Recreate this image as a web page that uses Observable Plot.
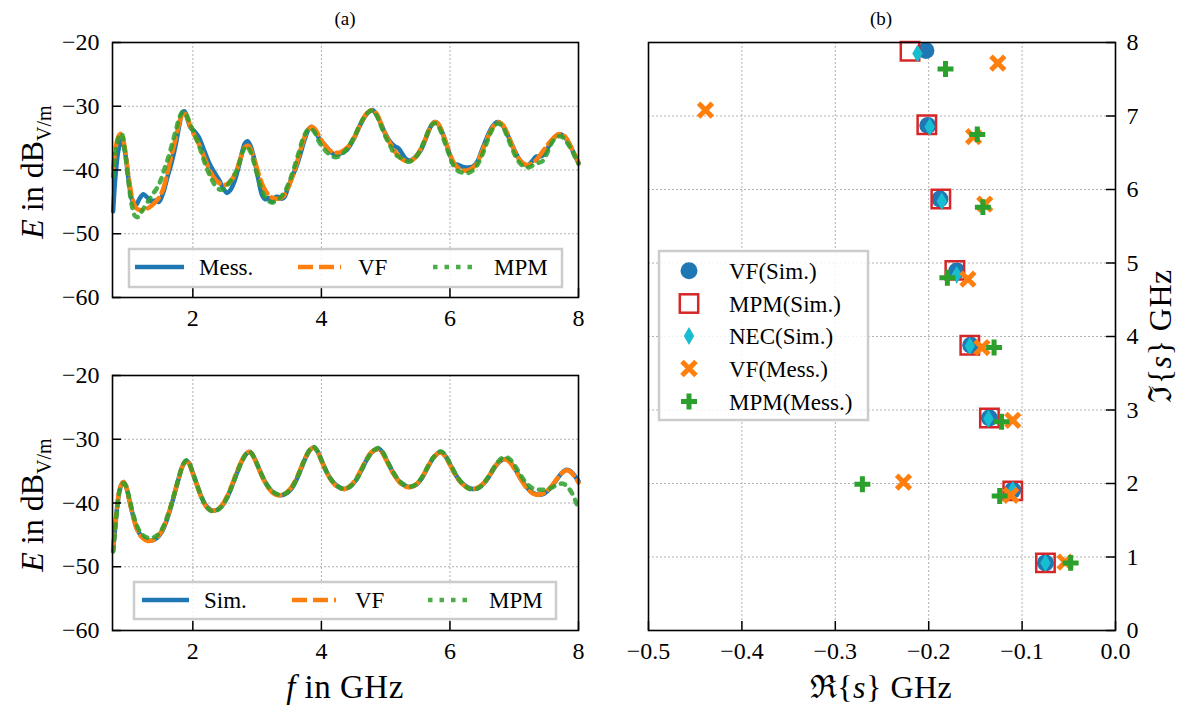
<!DOCTYPE html>
<html><head><meta charset="utf-8">
<script src="https://cdn.jsdelivr.net/npm/d3@7"></script>
<script src="https://cdn.jsdelivr.net/npm/@observablehq/plot@0.6"></script>
<style>
body{margin:0;background:#fff;overflow:hidden;}
#root{position:relative;width:1187px;height:711px;}
#root svg{position:absolute;left:0;top:0;}
</style></head><body><div id="root"></div>
<script>
// ---------- Data: panel (a) top, measurement ----------
const topMess = [[0.76,-46.5],[0.80,-40.5],[0.85,-36.5],[0.90,-35.3],[0.95,-37.5],[1.00,-41.5],[1.06,-44.8],[1.12,-45.4],[1.17,-44.5],[1.23,-43.8],[1.29,-44.3],[1.35,-44.9],[1.41,-44.8],[1.47,-45.0],[1.53,-43.8],[1.60,-41.3],[1.67,-38.8],[1.73,-36.2],[1.79,-33.0],[1.84,-30.9],[1.87,-30.8],[1.91,-31.8],[1.96,-33.3],[2.03,-34.0],[2.09,-34.8],[2.17,-36.8],[2.25,-38.8],[2.33,-40.3],[2.41,-41.6],[2.48,-43.0],[2.53,-43.6],[2.58,-43.2],[2.64,-42.0],[2.70,-40.0],[2.76,-37.5],[2.81,-35.8],[2.85,-35.5],[2.90,-36.3],[2.96,-38.5],[3.02,-41.5],[3.08,-44.0],[3.13,-44.6],[3.18,-44.4],[3.23,-45.0],[3.28,-44.3],[3.32,-44.2],[3.38,-44.5],[3.42,-44.3],[3.48,-42.8],[3.54,-41.2],[3.61,-39.5],[3.67,-37.6],[3.74,-35.2],[3.80,-33.6],[3.84,-33.2],[3.89,-33.7],[3.95,-34.8],[4.01,-35.6],[4.08,-36.4],[4.15,-37.2],[4.22,-37.6],[4.30,-37.4],[4.40,-36.8],[4.51,-35.0],[4.60,-33.0],[4.70,-31.3],[4.79,-30.6],[4.85,-31.2],[4.92,-32.6],[4.98,-34.0],[5.05,-35.3],[5.13,-36.2],[5.20,-36.6],[5.26,-37.5],[5.32,-38.3],[5.38,-38.5],[5.46,-38.0],[5.54,-37.0],[5.62,-35.2],[5.70,-33.2],[5.76,-32.5],[5.80,-32.6],[5.86,-33.6],[5.93,-35.5],[6.00,-37.6],[6.06,-39.0],[6.13,-39.2],[6.20,-39.5],[6.28,-39.6],[6.35,-39.5],[6.42,-38.8],[6.50,-36.8],[6.58,-34.8],[6.66,-33.2],[6.73,-32.5],[6.78,-32.6],[6.85,-33.5],[6.92,-35.0],[7.00,-36.8],[7.07,-38.2],[7.14,-39.0],[7.21,-39.3],[7.28,-38.6],[7.34,-37.9],[7.40,-37.9],[7.46,-37.6],[7.53,-36.4],[7.60,-35.2],[7.67,-34.5],[7.73,-34.4],[7.80,-35.0],[7.87,-36.2],[7.94,-37.6],[8.00,-38.9]];
const topVF = [[0.76,-39.8],[0.80,-36.5],[0.85,-34.6],[0.89,-34.3],[0.94,-36.5],[1.00,-41.0],[1.06,-44.5],[1.12,-46.0],[1.19,-46.3],[1.26,-46.2],[1.33,-45.8],[1.40,-45.2],[1.47,-44.4],[1.53,-43.2],[1.58,-41.5],[1.63,-39.3],[1.68,-37.2],[1.73,-35.2],[1.79,-32.6],[1.84,-31.3],[1.88,-31.2],[1.93,-32.3],[1.99,-33.9],[2.06,-35.2],[2.13,-36.8],[2.20,-38.6],[2.28,-40.4],[2.36,-41.6],[2.44,-42.2],[2.52,-42.3],[2.60,-41.6],[2.67,-40.3],[2.74,-38.2],[2.80,-36.5],[2.86,-36.2],[2.91,-37.0],[2.97,-38.8],[3.03,-40.8],[3.10,-42.7],[3.17,-43.8],[3.25,-44.4],[3.33,-44.5],[3.41,-44.1],[3.48,-42.8],[3.55,-41.0],[3.62,-38.8],[3.70,-36.0],[3.78,-33.9],[3.85,-33.2],[3.91,-33.7],[3.98,-35.0],[4.06,-36.2],[4.14,-37.0],[4.22,-37.3],[4.30,-37.2],[4.40,-36.5],[4.51,-34.9],[4.60,-33.0],[4.70,-31.2],[4.79,-30.6],[4.86,-31.2],[4.93,-32.8],[5.00,-34.5],[5.08,-36.0],[5.16,-37.3],[5.24,-38.2],[5.32,-38.6],[5.40,-38.5],[5.48,-37.8],[5.56,-36.4],[5.63,-34.8],[5.70,-33.2],[5.76,-32.5],[5.81,-32.7],[5.87,-33.8],[5.94,-35.8],[6.01,-37.8],[6.08,-39.2],[6.16,-39.9],[6.24,-40.1],[6.32,-39.9],[6.40,-39.2],[6.48,-37.6],[6.56,-35.6],[6.64,-33.8],[6.71,-32.7],[6.76,-32.5],[6.82,-32.9],[6.89,-34.2],[6.97,-36.2],[7.05,-37.9],[7.13,-38.9],[7.21,-39.2],[7.29,-38.9],[7.37,-38.1],[7.45,-37.0],[7.53,-35.9],[7.61,-35.0],[7.68,-34.4],[7.74,-34.4],[7.81,-35.0],[7.88,-36.3],[7.95,-37.8],[8.00,-38.9]];
const topMPM = [[0.76,-41.0],[0.80,-37.0],[0.85,-34.8],[0.89,-34.3],[0.94,-36.8],[1.00,-42.0],[1.05,-45.5],[1.10,-47.2],[1.14,-47.4],[1.20,-46.6],[1.26,-45.6],[1.33,-44.5],[1.39,-43.6],[1.45,-42.7],[1.50,-41.6],[1.56,-39.8],[1.62,-38.0],[1.68,-35.8],[1.74,-33.6],[1.79,-31.8],[1.84,-30.9],[1.88,-31.0],[1.94,-32.3],[2.00,-33.8],[2.06,-35.2],[2.13,-37.2],[2.20,-39.3],[2.28,-41.2],[2.36,-42.6],[2.43,-43.1],[2.50,-42.8],[2.58,-41.8],[2.66,-40.5],[2.72,-39.0],[2.78,-37.0],[2.83,-36.3],[2.88,-36.8],[2.95,-38.8],[3.02,-41.4],[3.09,-43.6],[3.16,-44.7],[3.23,-45.1],[3.30,-44.8],[3.37,-44.2],[3.44,-43.2],[3.51,-41.6],[3.58,-39.5],[3.65,-37.2],[3.71,-35.2],[3.78,-33.8],[3.83,-33.5],[3.89,-34.0],[3.96,-35.5],[4.04,-36.7],[4.13,-37.6],[4.22,-38.0],[4.31,-37.6],[4.40,-36.6],[4.51,-34.8],[4.60,-32.9],[4.70,-31.2],[4.78,-30.7],[4.85,-31.3],[4.92,-32.9],[4.99,-34.6],[5.07,-36.2],[5.14,-37.5],[5.20,-37.9],[5.28,-38.4],[5.36,-38.7],[5.44,-38.3],[5.52,-37.2],[5.60,-35.5],[5.67,-33.8],[5.73,-32.8],[5.78,-32.7],[5.84,-33.5],[5.91,-35.4],[5.98,-37.4],[6.05,-39.2],[6.12,-40.1],[6.19,-40.4],[6.27,-40.5],[6.35,-40.1],[6.42,-39.3],[6.50,-37.7],[6.57,-35.8],[6.64,-34.0],[6.71,-32.9],[6.76,-32.7],[6.82,-33.2],[6.89,-34.7],[6.97,-36.7],[7.05,-38.4],[7.13,-39.3],[7.21,-39.6],[7.29,-39.3],[7.37,-38.9],[7.44,-38.6],[7.50,-37.6],[7.57,-36.0],[7.64,-35.0],[7.70,-34.7],[7.76,-34.9],[7.83,-35.8],[7.90,-37.0],[7.96,-38.2],[8.00,-39.0]];

// ---------- Data: panel (a) bottom, simulation ----------
const botSim = [[0.76,-47.5],[0.79,-44.0],[0.83,-40.0],[0.87,-37.6],[0.92,-36.7],[0.96,-37.4],[1.01,-39.4],[1.07,-42.0],[1.13,-44.0],[1.20,-45.2],[1.28,-45.8],[1.36,-45.9],[1.44,-45.5],[1.52,-44.5],[1.59,-42.8],[1.66,-40.6],[1.73,-38.0],[1.79,-35.8],[1.85,-34.0],[1.90,-33.4],[1.94,-33.7],[2.00,-35.3],[2.07,-37.3],[2.14,-39.2],[2.22,-40.6],[2.30,-41.2],[2.37,-41.1],[2.45,-40.5],[2.53,-39.2],[2.61,-37.3],[2.69,-35.2],[2.77,-33.3],[2.84,-32.2],[2.89,-32.0],[2.95,-32.8],[3.02,-34.4],[3.10,-36.2],[3.18,-37.6],[3.27,-38.5],[3.35,-38.8],[3.44,-38.6],[3.53,-37.8],[3.61,-36.4],[3.69,-34.5],[3.76,-32.8],[3.83,-31.6],[3.88,-31.3],[3.94,-31.9],[4.01,-33.5],[4.09,-35.3],[4.18,-36.7],[4.27,-37.5],[4.36,-37.8],[4.45,-37.4],[4.54,-36.4],[4.62,-34.9],[4.70,-33.3],[4.78,-32.1],[4.85,-31.6],[4.90,-31.5],[4.96,-32.2],[5.03,-33.6],[5.12,-35.3],[5.21,-36.6],[5.30,-37.3],[5.39,-37.5],[5.48,-37.1],[5.57,-36.0],[5.65,-34.5],[5.73,-33.1],[5.80,-32.3],[5.86,-32.0],[5.92,-32.5],[6.00,-33.9],[6.09,-35.6],[6.18,-36.8],[6.27,-37.5],[6.36,-37.8],[6.45,-37.6],[6.54,-36.8],[6.63,-35.5],[6.72,-34.1],[6.80,-33.3],[6.87,-33.1],[6.94,-33.6],[7.02,-34.8],[7.11,-36.3],[7.20,-37.6],[7.29,-38.4],[7.38,-38.7],[7.47,-38.5],[7.56,-37.7],[7.65,-36.5],[7.73,-35.4],[7.80,-34.8],[7.86,-34.9],[7.93,-35.6],[8.00,-36.6]];
const botVF = [[0.76,-47.3],[0.79,-43.8],[0.83,-39.9],[0.87,-37.5],[0.92,-36.7],[0.96,-37.4],[1.01,-39.5],[1.07,-42.1],[1.13,-44.1],[1.20,-45.3],[1.28,-45.9],[1.36,-45.9],[1.44,-45.4],[1.52,-44.3],[1.59,-42.6],[1.66,-40.4],[1.73,-37.9],[1.79,-35.7],[1.85,-34.0],[1.90,-33.4],[1.94,-33.8],[2.00,-35.4],[2.07,-37.4],[2.14,-39.3],[2.22,-40.7],[2.30,-41.2],[2.37,-41.0],[2.45,-40.4],[2.53,-39.0],[2.61,-37.1],[2.69,-35.0],[2.77,-33.2],[2.84,-32.1],[2.89,-32.0],[2.95,-32.9],[3.02,-34.5],[3.10,-36.3],[3.18,-37.7],[3.27,-38.6],[3.35,-38.8],[3.44,-38.5],[3.53,-37.6],[3.61,-36.2],[3.69,-34.3],[3.76,-32.7],[3.83,-31.6],[3.88,-31.3],[3.94,-32.0],[4.01,-33.6],[4.09,-35.4],[4.18,-36.8],[4.27,-37.6],[4.36,-37.8],[4.45,-37.3],[4.54,-36.2],[4.62,-34.7],[4.70,-33.2],[4.78,-32.0],[4.85,-31.6],[4.90,-31.6],[4.96,-32.3],[5.03,-33.7],[5.12,-35.4],[5.21,-36.7],[5.30,-37.4],[5.39,-37.5],[5.48,-37.0],[5.57,-35.9],[5.65,-34.4],[5.73,-33.0],[5.80,-32.3],[5.86,-32.1],[5.92,-32.6],[6.00,-34.0],[6.09,-35.7],[6.18,-36.9],[6.27,-37.6],[6.36,-37.8],[6.45,-37.5],[6.54,-36.7],[6.63,-35.4],[6.72,-34.0],[6.80,-33.3],[6.87,-33.2],[6.94,-33.7],[7.02,-34.9],[7.11,-36.4],[7.20,-37.7],[7.29,-38.5],[7.38,-38.7],[7.47,-38.4],[7.56,-37.6],[7.65,-36.4],[7.73,-35.4],[7.80,-34.9],[7.86,-35.0],[7.93,-35.7],[8.00,-36.8]];
const botMPM = [[0.76,-47.6],[0.79,-44.2],[0.83,-40.3],[0.87,-37.8],[0.92,-36.9],[0.96,-37.3],[1.01,-39.2],[1.07,-41.7],[1.13,-43.6],[1.20,-44.8],[1.28,-45.4],[1.36,-45.5],[1.44,-45.1],[1.52,-44.1],[1.59,-42.5],[1.66,-40.4],[1.73,-37.9],[1.79,-35.7],[1.85,-33.9],[1.90,-33.3],[1.94,-33.7],[2.00,-35.3],[2.07,-37.3],[2.14,-39.2],[2.22,-40.7],[2.30,-41.3],[2.37,-41.2],[2.45,-40.5],[2.53,-39.2],[2.61,-37.3],[2.69,-35.2],[2.77,-33.3],[2.84,-32.2],[2.89,-32.0],[2.95,-32.8],[3.02,-34.4],[3.10,-36.2],[3.18,-37.5],[3.27,-38.4],[3.35,-38.7],[3.44,-38.5],[3.53,-37.7],[3.61,-36.3],[3.69,-34.4],[3.76,-32.7],[3.83,-31.5],[3.88,-31.2],[3.94,-31.9],[4.01,-33.5],[4.09,-35.3],[4.18,-36.7],[4.27,-37.5],[4.36,-37.8],[4.45,-37.4],[4.54,-36.4],[4.62,-34.9],[4.70,-33.3],[4.78,-32.1],[4.85,-31.5],[4.90,-31.4],[4.96,-32.1],[5.03,-33.5],[5.12,-35.2],[5.21,-36.5],[5.30,-37.2],[5.39,-37.4],[5.48,-37.0],[5.57,-35.9],[5.65,-34.4],[5.73,-33.0],[5.80,-32.2],[5.86,-31.9],[5.92,-32.4],[6.00,-33.8],[6.09,-35.5],[6.18,-36.8],[6.27,-37.6],[6.36,-37.9],[6.45,-37.6],[6.54,-36.7],[6.63,-35.3],[6.72,-33.9],[6.80,-33.0],[6.87,-32.8],[6.94,-33.2],[7.02,-34.3],[7.11,-35.8],[7.20,-37.0],[7.29,-37.7],[7.38,-37.9],[7.47,-37.9],[7.56,-37.7],[7.64,-37.3],[7.71,-37.0],[7.77,-37.0],[7.83,-37.5],[7.89,-38.3],[7.95,-39.6],[8.00,-41.0]];

// ---------- Data: panel (b) poles (Re{s}, Im{s}) in GHz ----------
const polesVFSim   = [[-0.203,7.89],[-0.201,6.87],[-0.188,5.87],[-0.170,4.89],[-0.155,3.88],[-0.135,2.89],[-0.110,1.91],[-0.075,0.92]];
const polesMPMSim  = [[-0.220,7.88],[-0.202,6.88],[-0.187,5.87],[-0.172,4.90],[-0.156,3.88],[-0.135,2.89],[-0.110,1.90],[-0.075,0.92]];
const polesNECSim  = [[-0.212,7.85],[-0.199,6.85],[-0.186,5.84],[-0.170,4.84],[-0.156,3.87],[-0.136,2.88],[-0.110,1.91],[-0.075,0.92]];
const polesVFMess  = [[-0.439,7.08],[-0.126,7.72],[-0.152,6.72],[-0.140,5.80],[-0.158,4.78],[-0.143,3.85],[-0.110,2.86],[-0.227,2.02],[-0.112,1.84],[-0.054,0.93]];
const polesMPMMess = [[-0.182,7.64],[-0.148,6.75],[-0.142,5.76],[-0.180,4.80],[-0.130,3.85],[-0.122,2.84],[-0.271,1.99],[-0.124,1.83],[-0.048,0.92]];

// ---------- Tick labels ----------
const fTicks = [2, 4, 6, 8];
const eTicks = [-20, -30, -40, -50, -60];
const reTicks = [-0.5, -0.4, -0.3, -0.2, -0.1, 0.0];
const imTicks = [0, 1, 2, 3, 4, 5, 6, 7, 8];

// ---------- Styling ----------
const C = {blue:"#1f77b4", orange:"#ff7f0e", green:"#2ca02c", red:"#d62728", cyan:"#17becf"};
const FONT = "'Liberation Serif','DejaVu Serif',serif";
const W = 1187, H = 711;
const toObj = a => a.map(([x, y]) => ({x, y}));
const tick = 9;

function linePanel(top, s1, s2, s3) {
  const fw = 466, fh = 255;
  return Plot.plot({
    width: W, height: H,
    marginLeft: 112, marginRight: W - 578, marginTop: top, marginBottom: H - (top + fh),
    style: {background: "transparent", fontFamily: FONT, fontSize: "24px", color: "#000"},
    x: {domain: [0.75, 8]},
    y: {domain: [-60, -20]},
    marks: [
      Plot.gridX({ticks: fTicks, stroke: "#b0b0b0", strokeOpacity: 1, strokeDasharray: "2,2", strokeWidth: 1}),
      Plot.gridY({ticks: eTicks, stroke: "#b0b0b0", strokeOpacity: 1, strokeDasharray: "2,2", strokeWidth: 1}),
      Plot.line(toObj(s1), {x: "x", y: "y", stroke: C.blue, strokeWidth: 4.5, curve: "catmull-rom"}),
      Plot.line(toObj(s2), {x: "x", y: "y", stroke: C.orange, strokeWidth: 4.5, strokeDasharray: "15,6", curve: "catmull-rom"}),
      Plot.line(toObj(s3), {x: "x", y: "y", stroke: C.green, strokeOpacity: 0.85, strokeWidth: 4.5, strokeDasharray: "4.5,7", curve: "catmull-rom"}),
      Plot.ruleX(fTicks, {x: d => d, insetTop: fh - tick, stroke: "#000", strokeWidth: 1.5}),
      Plot.ruleY(eTicks, {y: d => d, insetRight: fw - tick, stroke: "#000", strokeWidth: 1.5}),
      Plot.frame({stroke: "#000", strokeWidth: 1.6}),
      Plot.axisX({ticks: fTicks, tickSize: 0, tickPadding: 11, label: null, tickFormat: d3.format("d")}),
      Plot.axisY({ticks: eTicks, tickSize: 0, tickPadding: 13, label: null, tickFormat: d3.format("d")})
    ]
  });
}

const thinDiamond = {draw(ctx, size) { const r = Math.sqrt(size / Math.PI); ctx.moveTo(0, -r); ctx.lineTo(r * 0.58, 0); ctx.lineTo(0, r); ctx.lineTo(-r * 0.58, 0); ctx.closePath(); }};

function polePanel() {
  const fw = 467, fh = 588;
  return Plot.plot({
    width: W, height: H,
    marginLeft: 648, marginRight: W - 1115, marginTop: 42, marginBottom: H - 630,
    style: {background: "transparent", fontFamily: FONT, fontSize: "24px", color: "#000"},
    x: {domain: [-0.5, 0]},
    y: {domain: [0, 8]},
    marks: [
      Plot.gridX({ticks: reTicks, stroke: "#b0b0b0", strokeOpacity: 1, strokeDasharray: "2,2", strokeWidth: 1}),
      Plot.gridY({ticks: imTicks, stroke: "#b0b0b0", strokeOpacity: 1, strokeDasharray: "2,2", strokeWidth: 1}),
      Plot.dot(toObj(polesVFSim), {x: "x", y: "y", r: 8.5, symbol: "circle", fill: C.blue, stroke: "none"}),
      Plot.dot(toObj(polesMPMSim), {x: "x", y: "y", r: 10.4, symbol: "square", fill: "none", stroke: C.red, strokeWidth: 2.5}),
      Plot.dot(toObj(polesNECSim), {x: "x", y: "y", r: 9, symbol: thinDiamond, fill: C.cyan, stroke: "none"}),
      Plot.dot(toObj(polesVFMess), {x: "x", y: "y", r: 6.3, symbol: "times", fill: "none", stroke: C.orange, strokeWidth: 5}),
      Plot.dot(toObj(polesMPMMess), {x: "x", y: "y", r: 5.2, symbol: "plus", fill: "none", stroke: C.green, strokeWidth: 5}),
      Plot.ruleX(reTicks, {x: d => d, insetTop: fh - tick, stroke: "#000", strokeWidth: 1.5}),
      Plot.ruleY(imTicks, {y: d => d, insetLeft: fw - tick, stroke: "#000", strokeWidth: 1.5}),
      Plot.frame({stroke: "#000", strokeWidth: 1.6}),
      Plot.axisX({ticks: reTicks, tickSize: 0, tickPadding: 11, label: null, tickFormat: d3.format(".1f")}),
      Plot.axisY({ticks: imTicks, anchor: "right", tickSize: 0, tickPadding: 11, label: null, tickFormat: d3.format("d")})
    ]
  });
}

const root = document.getElementById("root");
root.append(linePanel(42, topMess, topVF, topMPM));
root.append(linePanel(375, botSim, botVF, botMPM));
root.append(polePanel());

// ---------- Overlay: legends, axis labels, panel titles ----------
function lineLegend(x, y, w, h, cy, items) {
  let s = `<rect x="${x}" y="${y}" width="${w}" height="${h}" fill="#fff" fill-opacity="0.85" stroke="#cccccc" stroke-width="2.5"/>`;
  for (const it of items) {
    s += `<line x1="${it.x0}" x2="${it.x1}" y1="${cy}" y2="${cy}" stroke="${it.c}" stroke-width="4.5" ${it.dash ? `stroke-dasharray="${it.dash}"` : ""} ${it.op ? `stroke-opacity="${it.op}"` : ""}/>`;
    s += `<text x="${it.tx}" y="${cy}" dy="0.35em" font-size="23">${it.label}</text>`;
  }
  return s;
}
let ov = `<svg width="${W}" height="${H}" xmlns="http://www.w3.org/2000/svg" font-family="${FONT.replace(/'/g, "&quot;")}" fill="#000">`;
ov += lineLegend(129, 249, 433, 38, 267, [
  {x0: 135, x1: 184, c: C.blue, tx: 199, label: "Mess."},
  {x0: 298, x1: 341, c: C.orange, dash: "15,6", tx: 358, label: "VF"},
  {x0: 433, x1: 477, c: C.green, dash: "4.5,7", op: 0.85, tx: 494, label: "MPM"}
]);
ov += lineLegend(134, 582, 422, 37, 600, [
  {x0: 142, x1: 189, c: C.blue, tx: 204, label: "Sim."},
  {x0: 292, x1: 336, c: C.orange, dash: "15,6", tx: 355, label: "VF"},
  {x0: 428, x1: 472, c: C.green, dash: "4.5,7", op: 0.85, tx: 489, label: "MPM"}
]);
// pole legend
ov += `<rect x="659" y="251" width="209" height="169" fill="#fff" fill-opacity="0.85" stroke="#cccccc" stroke-width="2.5"/>`;
const ly = [270.7, 303.5, 335.9, 368.5, 401.5], mx = 689;
ov += `<circle cx="${mx}" cy="${ly[0]}" r="8.5" fill="${C.blue}"/>`;
ov += `<rect x="${mx-9.2}" y="${ly[1]-9.2}" width="18.4" height="18.4" fill="none" stroke="${C.red}" stroke-width="2.5"/>`;
ov += `<path d="M${mx},${ly[2]-9} L${mx+5.2},${ly[2]} L${mx},${ly[2]+9} L${mx-5.2},${ly[2]} Z" fill="${C.cyan}"/>`;
ov += `<path d="M${mx-7},${ly[3]-7} L${mx+7},${ly[3]+7} M${mx-7},${ly[3]+7} L${mx+7},${ly[3]-7}" stroke="${C.orange}" stroke-width="5"/>`;
ov += `<path d="M${mx-8},${ly[4]} L${mx+8},${ly[4]} M${mx},${ly[4]-8} L${mx},${ly[4]+8}" stroke="${C.green}" stroke-width="5"/>`;
["VF(Sim.)", "MPM(Sim.)", "NEC(Sim.)", "VF(Mess.)", "MPM(Mess.)"].forEach((t, i) => {
  ov += `<text x="729" y="${ly[i]}" dy="0.35em" font-size="23">${t}</text>`;
});
// titles
ov += `<text x="345" y="18" dy="0.35em" text-anchor="middle" font-size="19">(a)</text>`;
ov += `<text x="881" y="18" dy="0.35em" text-anchor="middle" font-size="19">(b)</text>`;
// y labels left
for (const cy of [172, 505]) {
  ov += `<text transform="translate(43,${cy}) rotate(-90)" text-anchor="middle" font-size="32"><tspan font-style="italic">E</tspan> in dB<tspan font-size="20" dy="8">V/m</tspan></text>`;
}
// x labels
ov += `<text x="345" y="698" text-anchor="middle" font-size="33" letter-spacing="0.5"><tspan font-style="italic">f</tspan> in GHz</text>`;
ov += `<text x="881" y="698" text-anchor="middle" font-size="32" letter-spacing="0.5">ℜ{<tspan font-style="italic">s</tspan>} GHz</text>`;
ov += `<text transform="translate(1171,336) rotate(-90)" text-anchor="middle" font-size="32" letter-spacing="0.5">ℑ{<tspan font-style="italic">s</tspan>} GHz</text>`;
ov += `</svg>`;
root.insertAdjacentHTML("beforeend", ov);
</script></body></html>
